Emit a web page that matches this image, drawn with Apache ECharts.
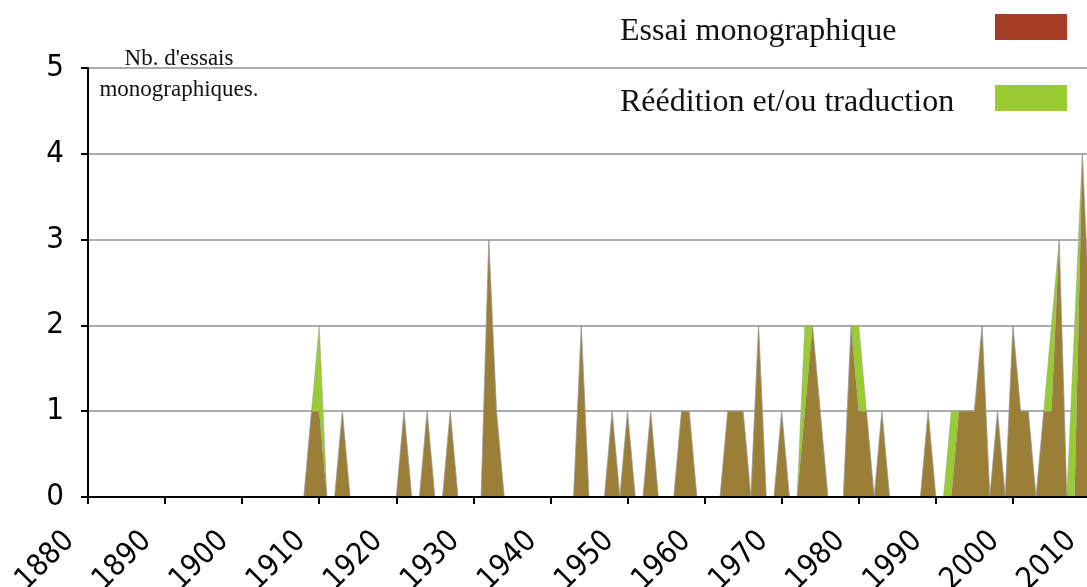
<!DOCTYPE html>
<html>
<head>
<meta charset="utf-8">
<script src="https://cdn.jsdelivr.net/npm/echarts@6/dist/echarts.min.js"></script>
<style>
  html, body { margin: 0; padding: 0; background: #fff; }
  #chart { width: 1087px; height: 587px; }
</style>
</head>
<body>
<div id="chart"></div>
<script>
// années 1880 -> 2010 (catégories)
const firstYear = 1880
const lastYear = 2010
const years = []
for (let y = firstYear; y <= lastYear; y++) years.push(String(y))

// Essai monographique, une ligne par décennie
const essai = [
  0, 0, 0, 0, 0, 0, 0, 0, 0, 0,   // 1880
  0, 0, 0, 0, 0, 0, 0, 0, 0, 0,   // 1890
  0, 0, 0, 0, 0, 0, 0, 0, 0, 1,   // 1900
  1, 0, 0, 1, 0, 0, 0, 0, 0, 0,   // 1910
  0, 1, 0, 0, 1, 0, 0, 1, 0, 0,   // 1920
  0, 0, 3, 1, 0, 0, 0, 0, 0, 0,   // 1930
  0, 0, 0, 0, 2, 0, 0, 0, 1, 0,   // 1940
  1, 0, 0, 1, 0, 0, 0, 1, 1, 0,   // 1950
  0, 0, 0, 1, 1, 1, 0, 2, 0, 0,   // 1960
  1, 0, 0, 1, 2, 1, 0, 0, 0, 2,   // 1970
  1, 1, 0, 1, 0, 0, 0, 0, 0, 1,   // 1980
  0, 0, 0, 1, 1, 1, 2, 0, 1, 0,   // 1990
  2, 1, 1, 0, 1, 1, 3, 0, 0, 4,   // 2000
  2                               // 2010
]

// Réédition et/ou traduction (empilé au-dessus)
const reedition = [
  0, 0, 0, 0, 0, 0, 0, 0, 0, 0,   // 1880
  0, 0, 0, 0, 0, 0, 0, 0, 0, 0,   // 1890
  0, 0, 0, 0, 0, 0, 0, 0, 0, 0,   // 1900
  1, 0, 0, 0, 0, 0, 0, 0, 0, 0,   // 1910
  0, 0, 0, 0, 0, 0, 0, 0, 0, 0,   // 1920
  0, 0, 0, 0, 0, 0, 0, 0, 0, 0,   // 1930
  0, 0, 0, 0, 0, 0, 0, 0, 0, 0,   // 1940
  0, 0, 0, 0, 0, 0, 0, 0, 0, 0,   // 1950
  0, 0, 0, 0, 0, 0, 0, 0, 0, 0,   // 1960
  0, 0, 0, 1, 0, 0, 0, 0, 0, 0,   // 1970
  1, 0, 0, 0, 0, 0, 0, 0, 0, 0,   // 1980
  0, 0, 1, 0, 0, 0, 0, 0, 0, 0,   // 1990
  0, 0, 0, 0, 0, 1, 0, 0, 2, 0,   // 2000
  0                               // 2010
]

const seriesNames = ['Essai monographique', 'Réédition et/ou traduction']
const yTicks = [0, 1, 2, 3, 4, 5]

const axisFont = '"Liberation Sans Narrow", "DejaVu Sans Condensed", sans-serif'
const serifFont = '"Liberation Serif", "DejaVu Serif", serif'

const chart = echarts.init(document.getElementById('chart'), null, { renderer: 'canvas' })

chart.setOption({
  animation: false,
  backgroundColor: '#ffffff',
  title: {
    text: "Nb. d'essais\nmonographiques.",
    left: 174,
    top: 38,
    textAlign: 'center',
    textStyle: {
      fontFamily: serifFont,
      fontWeight: 'normal',
      fontSize: 23,
      lineHeight: 31,
      color: '#111'
    }
  },
  legend: {
    orient: 'vertical',
    left: 620,
    top: 14,
    padding: 0,
    align: 'right',
    icon: 'rect',
    itemWidth: 72,
    itemHeight: 26,
    itemGap: 37,
    selectedMode: false,
    formatter: name => '{t|' + name + '}',
    textStyle: {
      fontFamily: serifFont,
      fontSize: 32,
      color: '#111',
      rich: {
        t: {
          width: 370,
          align: 'left',
          padding: [10, 0, 0, 0],
          fontFamily: serifFont,
          fontSize: 32,
          color: '#111'
        }
      }
    },
    data: [
      { name: seriesNames[0], itemStyle: { color: '#A33D23' } },
      { name: seriesNames[1], itemStyle: { color: '#99CC33' } }
    ]
  },
  grid: {
    left: 88,
    right: -3,
    top: 68,
    bottom: 90,
    containLabel: false,
    outerBoundsMode: 'none'
  },
  xAxis: {
    type: 'category',
    data: years,
    boundaryGap: false,
    z: 10,
    axisLine: { lineStyle: { color: '#000', width: 2 } },
    axisTick: { interval: 9, length: 7, lineStyle: { color: '#000', width: 2 } },
    axisLabel: {
      interval: 9,
      rotate: 45,
      margin: 21,
      padding: [0, 26, 0, 0],
      fontFamily: axisFont,
      fontSize: 30,
      color: '#000'
    },
    splitLine: { show: false }
  },
  yAxis: {
    type: 'value',
    min: yTicks[0],
    max: yTicks[yTicks.length - 1],
    interval: 1,
    axisLine: { show: true, lineStyle: { color: '#000', width: 2 } },
    axisTick: { show: true, length: 7, lineStyle: { color: '#000', width: 2 } },
    axisLabel: {
      margin: 24,
      fontFamily: axisFont,
      fontSize: 31,
      color: '#000'
    },
    splitLine: { lineStyle: { color: '#ADADAD', width: 2 } }
  },
  series: [
    {
      name: seriesNames[0],
      type: 'line',
      stack: 'total',
      data: essai,
      symbol: 'none',
      itemStyle: { color: '#A33D23' },
      lineStyle: { width: 1, color: 'rgba(150,150,150,0.45)' },
      areaStyle: { color: '#9C7F36', opacity: 1 }
    },
    {
      name: seriesNames[1],
      type: 'line',
      stack: 'total',
      data: reedition,
      symbol: 'none',
      itemStyle: { color: '#99CC33' },
      lineStyle: { width: 1, color: 'rgba(150,150,150,0.45)' },
      areaStyle: { color: '#99CC33', opacity: 1 }
    }
  ]
})

window.addEventListener('resize', () => chart.resize())
</script>
</body>
</html>
